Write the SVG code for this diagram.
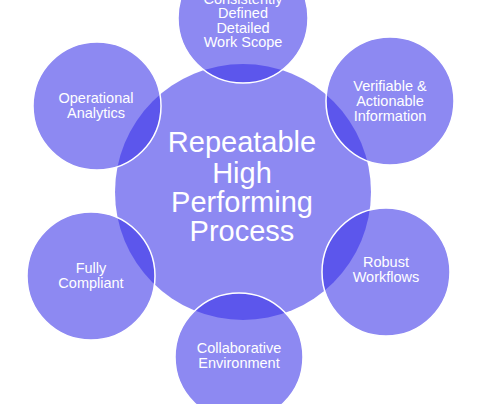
<svg xmlns="http://www.w3.org/2000/svg" width="485" height="404" viewBox="0 0 485 404">
<style>
.c{fill:#3730e8;fill-opacity:0.57}
.o{fill:#3730e8;fill-opacity:0.57;stroke:#ffffff;stroke-width:1.5}
text{font-family:"Liberation Sans",Arial,sans-serif;fill:#ffffff;text-anchor:middle}
.s{font-size:14.5px}
.b{font-size:29px}
</style>
<rect width="485" height="404" fill="#ffffff"/>
<g id="center">
<circle class="c" cx="243" cy="192" r="128"/>
</g>
<g id="work-scope">
<circle class="o" cx="243" cy="18" r="65"/>
<text class="s" x="243" y="3.5">Consistently</text>
<text class="s" x="243" y="18">Defined</text>
<text class="s" x="243" y="32.5">Detailed</text>
<text class="s" x="243" y="47">Work Scope</text>
</g>
<g id="verifiable">
<circle class="o" cx="390" cy="101" r="64"/>
<text class="s" x="390" y="91">Verifiable &amp;</text>
<text class="s" x="390" y="106">Actionable</text>
<text class="s" x="390" y="121">Information</text>
</g>
<g id="robust">
<circle class="o" cx="386" cy="272" r="64"/>
<text class="s" x="386" y="267">Robust</text>
<text class="s" x="386" y="282">Workflows</text>
</g>
<g id="collaborative">
<circle class="o" cx="239" cy="357" r="64"/>
<text class="s" x="239" y="353">Collaborative</text>
<text class="s" x="239" y="368">Environment</text>
</g>
<g id="compliant">
<circle class="o" cx="91" cy="276" r="64"/>
<text class="s" x="91" y="273">Fully</text>
<text class="s" x="91" y="287.5">Compliant</text>
</g>
<g id="operational">
<circle class="o" cx="97" cy="106" r="64"/>
<text class="s" x="96" y="103">Operational</text>
<text class="s" x="96" y="117.5">Analytics</text>
</g>
<g id="center-label">
<text class="b" x="242" y="152">Repeatable</text>
<text class="b" x="242" y="183">High</text>
<text class="b" x="242" y="212">Performing</text>
<text class="b" x="242" y="241">Process</text>
</g>
<g id="connectors"></g>
</svg>
